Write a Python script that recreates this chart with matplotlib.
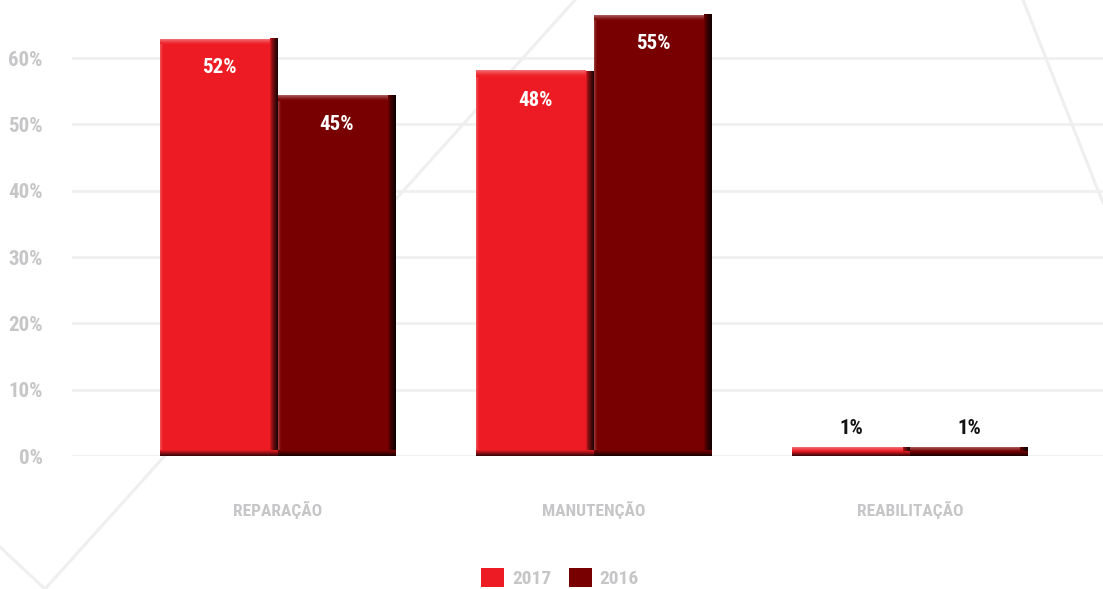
import numpy as np
import matplotlib
matplotlib.use("Agg")
import matplotlib.pyplot as plt
from matplotlib import font_manager
from matplotlib.lines import Line2D
from matplotlib.colors import to_rgb

# ---- data -------------------------------------------------------------
categories = ["REPARAÇÃO", "MANUTENÇÃO", "REABILITAÇÃO"]
series_names = ["2017", "2016"]
values_2017 = [52, 48, 1]
values_2016 = [45, 55, 1]
tick_percents = [0, 10, 20, 30, 40, 50, 60]
tick_labels = ["0%", "10%", "20%", "30%", "40%", "50%", "60%"]

# ---- style ------------------------------------------------------------
RED = "#ed1c24"
DARK = "#790000"
GRAY = "#c6c6c8"
GRID = "#efefef"


def _weight(f):
    w = f.weight
    if isinstance(w, str):
        w = font_manager.weight_dict.get(w, 400)
    return w


def pick_font(cands):
    """First candidate family that ships a bold face."""
    fl = font_manager.fontManager.ttflist
    for c in cands:
        if any(f.name == c and _weight(f) >= 600 for f in fl):
            return c
    return "DejaVu Sans"


FONT = pick_font(["Oswald", "Bebas Neue", "Roboto Condensed",
                  "Liberation Sans Narrow", "DejaVu Sans Condensed",
                  "Open Sans Condensed"])
FKW = dict(family=[FONT, "DejaVu Sans"], fontweight="bold", fontstretch="condensed")

W, H, DPI = 1103, 589, 100
fig = plt.figure(figsize=(W / DPI, H / DPI), dpi=DPI)
fig.patch.set_facecolor("white")

# decorative background strokes (figure pixel coordinates, origin top-left)
for (x0, y0), (x1, y1) in [((0, 547), (45, 589)), ((45, 589), (575, 0)),
                           ((1023, 0), (1103, 203))]:
    fig.add_artist(Line2D([x0 / W, x1 / W], [1 - y0 / H, 1 - y1 / H],
                          transform=fig.transFigure, color=GRID, lw=2.2,
                          zorder=0))

# plot area
left_px, base_px = 72, 456
ax = fig.add_axes([left_px / W, (H - base_px) / H, (W - left_px) / W, base_px / H])
ax.patch.set_alpha(0)
ax.set_zorder(1)

GROUP_PX = 316.0          # pixels between category centres
UNIT_PX = 8.02            # pixels per value unit
first_center_px = 278
ax.set_xlim((left_px - first_center_px) / GROUP_PX, (W - first_center_px) / GROUP_PX)
ax.set_ylim(0, base_px / UNIT_PX)

px_x = 1 / GROUP_PX
px_y = 1 / UNIT_PX
bar_w = 118 * px_x

# axis ticks: 10% steps are drawn 66.3 px apart
tick_step = 66.33 / UNIT_PX / 10
tick_pos = np.array(tick_percents) * tick_step
ax.set_yticks(tick_pos, tick_labels)
ax.tick_params(axis="y", length=0, pad=21, labelcolor=GRAY, labelsize=15)
for lab in ax.get_yticklabels():
    lab.set_fontfamily([FONT, "DejaVu Sans"])
    lab.set_fontweight("bold")
    lab.set_fontstretch("condensed")
ax.set_xticks([])
for s in ax.spines.values():
    s.set_visible(False)
for t in tick_pos:
    ax.axhline(t, color=GRID, lw=1.9, zorder=0.5)

x = np.arange(len(categories))


def shade(c, f):
    r = np.array(to_rgb(c))
    return tuple(r * f) if f < 1 else tuple(r + (1 - r) * (f - 1))


def grad(ax, extent, c0, c1, vertical, gamma=1.0):
    n = 32
    t = np.linspace(0, 1, n) ** gamma
    a = np.array(c0)[None, :] * (1 - t)[:, None] + np.array(c1)[None, :] * t[:, None]
    img = a[:, None, :] if vertical else a[None, :, :]
    ax.imshow(img, extent=extent, origin="lower", aspect="auto",
              interpolation="bilinear", zorder=3)


def bevel(ax, rect, color):
    x0, w, h = rect.get_x(), rect.get_width(), rect.get_height()
    bx, by = 8 * px_x, 6 * px_y
    by = min(by, h / 2)
    base = to_rgb(color)
    # right edge darkens towards black
    grad(ax, (x0 + w - bx, x0 + w, 0, h), base, shade(color, 0.12),
         vertical=False, gamma=0.6)
    # top edge lightens
    grad(ax, (x0, x0 + w - bx, h - by, h), base, shade(color, 1.38),
         vertical=True, gamma=1.5)
    # bottom edge darkens
    grad(ax, (x0, x0 + w, 0, by), shade(color, 0.2), base, vertical=True)
    # narrow highlight on the left
    grad(ax, (x0, x0 + 3 * px_x, by, h - by), shade(color, 1.25), base, vertical=False)


bars = []
for i, (vals, col, name) in enumerate([(values_2017, RED, series_names[0]),
                                       (values_2016, DARK, series_names[1])]):
    offs = (i - 0.5) * bar_w
    bc = ax.bar(x + offs, vals, width=bar_w, color=col, label=name,
                linewidth=0, zorder=2)
    bars.append(bc)
    for rect, v in zip(bc, vals):
        bevel(ax, rect, col)
        cx = rect.get_x() + rect.get_width() / 2
        if v > 5:
            ax.text(cx, v - 29 * px_y, f"{v}%", ha="center", va="center",
                    color="white", fontsize=15, zorder=5, **FKW)
        else:
            ax.text(cx, v + 19.5 * px_y, f"{v}%", ha="center", va="center",
                    color="#141414", fontsize=15, zorder=5, **FKW)

# category labels below the plot
for xi, cat in zip(x, categories):
    ax.text(xi, -54 / base_px, cat, transform=ax.get_xaxis_transform(),
            ha="center", va="center", color=GRAY, fontsize=12.5, **FKW)

leg = ax.legend(handles=bars, loc="center", bbox_to_anchor=(560 / W, (H - 578) / H),
                bbox_transform=fig.transFigure, ncol=2, frameon=False,
                prop=dict(family=[FONT, "DejaVu Sans"], weight="bold",
                          stretch="condensed", size=14),
                handlelength=1.2, handleheight=1.13, handletextpad=0.4,
                columnspacing=0.9, borderaxespad=0, borderpad=0)
for t in leg.get_texts():
    t.set_color(GRAY)

fig.savefig("out.png", dpi=DPI, facecolor="white")
